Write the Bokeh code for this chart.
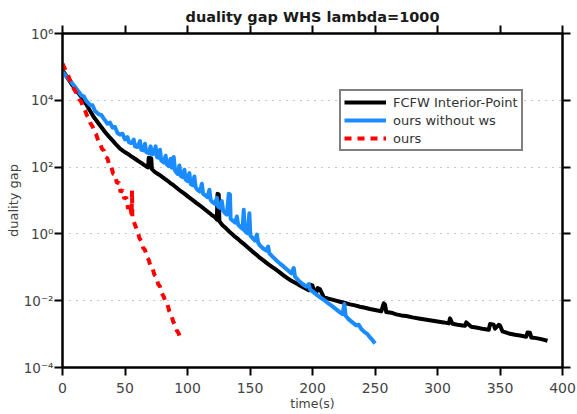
from bokeh.plotting import figure
from bokeh.models import (ColumnDataSource, FixedTicker, CustomJSTickFormatter,
                          LinearAxis, LogAxis, Legend, LegendItem, Range1d)
from bokeh.embed import file_html
from bokeh.resources import INLINE

# ---- data: elapsed time (s) and log10 of the duality gap ----
fcfw_time = [0, 2, 4, 6, 8, 10, 13, 16, 19, 22,
             25, 28, 31, 34, 37, 40, 43, 46, 49, 52,
             55, 58, 61, 64, 67, 68.5, 69, 71, 71.5, 74,
             77, 80, 83, 86, 89, 92, 95, 98, 101, 104,
             107, 110, 113, 116, 119, 122, 123.5, 124, 125, 125.5,
             128, 131, 134, 137, 140, 143, 146, 149, 152, 155,
             158, 161, 164, 167, 170, 173, 176, 179, 182, 185,
             188, 191, 194, 197, 198, 200, 201, 203, 204, 206,
             209, 212, 215, 218, 222, 226, 230, 234, 238, 242,
             246, 250, 254, 255, 257, 258, 259, 263, 267, 271,
             275, 280, 285, 290, 295, 300, 305, 309, 310, 312,
             316, 320, 322, 323, 327, 332, 337, 341, 342, 345,
             346, 349, 350, 352, 357, 362, 366, 371, 372, 374,
             375, 379, 383, 386, 388]
fcfw_log_gap = [4.90, 4.79, 4.67, 4.56, 4.45, 4.35, 4.20, 4.05, 3.88, 3.69,
                3.50, 3.35, 3.20, 3.05, 2.92, 2.80, 2.67, 2.55, 2.47, 2.40,
                2.32, 2.25, 2.17, 2.10, 2.02, 1.99, 2.28, 2.26, 1.94, 1.85,
                1.78, 1.70, 1.62, 1.53, 1.45, 1.36, 1.27, 1.19, 1.10, 1.02,
                0.93, 0.85, 0.76, 0.67, 0.58, 0.50, 0.43, 1.20, 1.18, 0.38,
                0.26, 0.16, 0.05, -0.05, -0.14, -0.24, -0.33, -0.43, -0.53, -0.62,
                -0.72, -0.80, -0.89, -0.97, -1.05, -1.13, -1.22, -1.30, -1.38, -1.44,
                -1.50, -1.57, -1.63, -1.69, -1.52, -1.54, -1.72, -1.76, -1.62, -1.66,
                -1.89, -1.93, -1.96, -1.99, -2.03, -2.07, -2.11, -2.14, -2.18, -2.21,
                -2.25, -2.28, -2.31, -2.32, -2.08, -2.12, -2.34, -2.36, -2.41, -2.44,
                -2.46, -2.50, -2.53, -2.56, -2.59, -2.62, -2.65, -2.68, -2.53, -2.69,
                -2.72, -2.74, -2.75, -2.65, -2.78, -2.81, -2.85, -2.87, -2.70, -2.72,
                -2.84, -2.72, -2.74, -2.92, -2.98, -3.02, -3.04, -3.08, -2.95, -2.96,
                -3.10, -3.12, -3.15, -3.18, -3.20]

nows_time = [0, 3, 6, 9, 12, 15, 17, 19, 22, 24,
             26, 29, 31, 33, 36, 38, 40, 42, 44, 46,
             48, 50, 52, 53, 55, 57, 58, 60, 62, 63,
             65, 66, 67, 69, 70.5, 71.5, 73, 74.5, 75.5, 77,
             78, 79, 81, 82.5, 83.5, 85, 86.5, 87.5, 89, 90,
             92, 93.5, 94.5, 96, 97.5, 98.5, 100, 101.5, 102.5, 104,
             105.5, 106.5, 108, 110, 111.5, 112.5, 114, 116, 117.5, 118.5,
             120, 122, 123.5, 124.5, 126, 127.5, 128.5, 130, 131.5, 133,
             134, 134.5, 136, 138, 139.5, 140.5, 142, 144, 145, 145.7,
             148, 149.5, 150.3, 152, 154, 155.5, 156.5, 158, 161, 163,
             164.5, 165.5, 168, 171, 174, 177, 180, 183, 185, 186,
             189, 192, 195, 197, 198, 201, 204, 207, 210, 213,
             216, 219, 222, 224, 225.5, 226.5, 229, 232, 235, 237,
             239, 242, 244, 246, 248, 250]
nows_log_gap = [4.85, 4.72, 4.59, 4.45, 4.30, 4.15, 4.12, 3.98, 3.86, 3.85,
                3.68, 3.58, 3.56, 3.45, 3.30, 3.33, 3.18, 3.20, 3.02, 2.97,
                3.00, 2.83, 2.90, 2.75, 2.72, 2.82, 2.62, 2.60, 2.78, 2.52,
                2.50, 2.70, 2.45, 2.42, 2.62, 2.38, 2.40, 2.62, 2.30, 2.28,
                2.52, 2.20, 2.14, 2.34, 2.08, 2.03, 2.25, 1.98, 2.30, 1.90,
                1.80, 2.05, 1.74, 1.70, 1.92, 1.63, 1.58, 1.82, 1.50, 1.46,
                1.72, 1.40, 1.32, 1.27, 1.50, 1.20, 1.16, 1.10, 1.32, 1.02,
                0.95, 0.90, 1.08, 0.82, 0.78, 0.98, 0.70, 0.62, 0.58, 1.20,
                1.18, 0.45, 0.40, 0.34, 0.52, 0.28, 0.22, 0.15, 0.72, 0.10,
                0.02, 0.62, -0.05, -0.12, -0.20, -0.02, -0.26, -0.35, -0.45, -0.50,
                -0.38, -0.58, -0.68, -0.79, -0.89, -0.98, -1.08, -1.18, -1.02, -1.28,
                -1.40, -1.50, -1.58, -1.50, -1.66, -1.75, -1.84, -1.92, -2.00, -2.09,
                -2.17, -2.26, -2.35, -2.40, -2.10, -2.45, -2.56, -2.65, -2.74, -2.72,
                -2.85, -2.95, -3.00, -3.10, -3.18, -3.28]

ours_time = [0, 1.5, 3, 4.5, 6, 7.5, 9, 10.5, 12, 13.5,
             15, 16.5, 18, 19.5, 21, 22.5, 24, 25.5, 27, 28.5,
             30, 31.5, 33, 34.5, 36, 37.5, 39, 40.5, 42, 43.5,
             45, 46.5, 48, 49.5, 51, 52.5, 54, 55.3, 55.6, 55.9,
             57, 58.5, 60, 61.5, 63, 64.5, 66, 67.5, 69, 70.5,
             72, 73.5, 75, 76.5, 78, 79.5, 81, 82.5, 84, 85.5,
             87, 88.5, 90, 91.5, 93, 94.5, 95]
ours_log_gap = [5.10, 4.98, 4.85, 4.74, 4.60, 4.50, 4.35, 4.26, 4.15, 4.03,
                3.95, 3.80, 3.70, 3.55, 3.47, 3.30, 3.22, 3.05, 2.97, 2.80,
                2.74, 2.55, 2.50, 2.30, 2.26, 2.05, 2.02, 1.80, 1.78, 1.52,
                1.55, 1.25, 1.32, 1.05, 1.10, 0.75, 0.90, 0.55, 1.30, 0.50,
                0.38, 0.22, 0.08, -0.12, -0.22, -0.42, -0.48, -0.70, -0.78, -0.98,
                -1.02, -1.22, -1.28, -1.50, -1.58, -1.78, -1.88, -2.05, -2.12, -2.32,
                -2.42, -2.62, -2.72, -2.90, -2.98, -3.18, -3.22]

series_names = ["FCFW Interior-Point", "ours without ws", "ours"]
x_ticks = [0, 50, 100, 150, 200, 250, 300, 350, 400]
y_tick_exponents = [-4, -2, 0, 2, 4, 6]

FONT = "DejaVu Sans"

p = figure(width=577, height=414, output_backend="svg", toolbar_location=None,
           x_range=Range1d(0, 400), y_range=Range1d(1e-4, 1e6),
           y_axis_type="log", title="duality gap WHS lambda=1000",
           min_border_left=62, min_border_right=15,
           min_border_top=33, min_border_bottom=47)
p.background_fill_color = "white"
p.border_fill_color = "white"
p.outline_line_color = "black"
p.outline_line_width = 2

p.title.align = "center"
p.title.text_font = FONT
p.title.text_font_size = "14.5px"
p.title.text_font_style = "bold"
p.title.text_color = "#1a1a1a"
p.title.standoff = 2

y_ticks = [10.0 ** e for e in y_tick_exponents]
sup_code = """
const sup = {'-':'\u207b','0':'\u2070','1':'\u00b9','2':'\u00b2','3':'\u00b3',
             '4':'\u2074','5':'\u2075','6':'\u2076','7':'\u2077','8':'\u2078','9':'\u2079'};
const e = Math.round(Math.log10(tick));
return '10' + String(e).split('').map(c => sup[c]).join('');
"""
blank = CustomJSTickFormatter(code="return '';")


def style_axis(ax):
    ax.axis_line_color = "black"
    ax.axis_line_width = 2
    ax.major_tick_line_color = "black"
    ax.major_tick_line_width = 2
    ax.major_tick_out = 8
    ax.major_tick_in = 0
    ax.minor_tick_line_color = None
    ax.major_label_text_font = FONT
    ax.major_label_text_font_size = "14px"
    ax.major_label_text_color = "#444444"
    ax.axis_label_text_font = FONT
    ax.axis_label_text_font_size = "13px"
    ax.axis_label_text_font_style = "normal"
    ax.axis_label_text_color = "#444444"


xax = p.xaxis[0]
xax.ticker = FixedTicker(ticks=x_ticks)
xax.axis_label = "time(s)"
style_axis(xax)
xax.axis_label_standoff = 0
xax.major_label_standoff = 7
xax.axis_label_text_font_size = "12.5px"

yax = p.yaxis[0]
yax.ticker = FixedTicker(ticks=y_ticks)
yax.formatter = CustomJSTickFormatter(code=sup_code)
yax.axis_label = "duality gap"
style_axis(yax)
yax.axis_label_standoff = 0
yax.major_label_standoff = 1
yax.major_label_text_font_size = "13.5px"

top = LinearAxis(ticker=FixedTicker(ticks=x_ticks), formatter=blank)
style_axis(top)
top.major_label_standoff = 0
top.major_label_text_font_size = "1px"
p.add_layout(top, "above")

right = LogAxis(ticker=FixedTicker(ticks=y_ticks), formatter=blank)
style_axis(right)
right.major_label_standoff = 0
right.major_label_text_font_size = "1px"
p.add_layout(right, "right")

p.xgrid.visible = False
p.ygrid.ticker = FixedTicker(ticks=y_ticks)
p.ygrid.grid_line_color = "#8c8c8c"
p.ygrid.grid_line_dash = "1 6"
p.ygrid.grid_line_width = 1


def source(t, lg):
    return ColumnDataSource(dict(t=t, gap=[10.0 ** v for v in lg]))


r_fcfw = p.line("t", "gap", source=source(fcfw_time, fcfw_log_gap),
                line_color="black", line_width=4, line_join="round")
r_nows = p.line("t", "gap", source=source(nows_time, nows_log_gap),
                line_color="#1a8cff", line_width=4, line_join="round")
r_ours = p.line("t", "gap", source=source(ours_time, ours_log_gap),
                line_color="#ff0000", line_width=4, line_dash="7 6")

legend = Legend(items=[LegendItem(label=series_names[0], renderers=[r_fcfw]),
                       LegendItem(label=series_names[1], renderers=[r_nows]),
                       LegendItem(label=series_names[2], renderers=[r_ours])],
                location=(277, 216))
legend.border_line_color = "black"
legend.border_line_width = 2
legend.background_fill_color = "white"
legend.background_fill_alpha = 1
legend.label_text_font = FONT
legend.label_text_font_size = "13px"
legend.label_text_color = "#333333"
legend.glyph_width = 42
legend.glyph_height = 16
legend.spacing = 2
legend.padding = 3
legend.margin = 0
legend.label_standoff = 7
legend.label_height = 16
p.add_layout(legend)

open("out.html", "w").write(file_html(p, INLINE))
